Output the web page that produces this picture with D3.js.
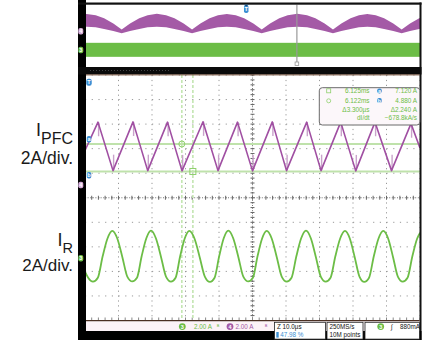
<!DOCTYPE html>
<html>
<head>
<meta charset="utf-8">
<script src="https://cdnjs.cloudflare.com/ajax/libs/d3/7.8.5/d3.min.js"></script>
<style>
body { margin: 0; background: #fff; }
svg { display: block; font-family: 'Liberation Sans', Arial, sans-serif; }
</style>
</head>
<body>
<script>
// ---- data read off the scope shot ----
// main window, time in us (10us/div), current in A (2A/div)
var pfcTime = [0, 3.88, 8.36, 14.33, 18.72, 24.63, 28.96, 35.22, 39.70, 45.52, 50.0,
	55.91, 60.15, 66.18, 70.45, 76.33, 80.81, 86.57, 91.49, 97.31, 100];
var pfcAmps = [6.6, 8.9, 4.95, 8.92, 4.95, 8.9, 4.93, 8.93, 4.95, 8.9, 4.93,
	8.92, 4.95, 8.9, 4.95, 8.9, 4.93, 8.9, 4.95, 8.78, 6.8];

var irTime = [0, 0.95, 2.39, 3.83, 5.27, 6.71, 8.15, 9.64, 11.14, 12.63, 14.12,
	15.52, 16.91, 18.31, 19.70, 21.19, 22.69, 24.18, 25.67, 27.04, 28.40, 29.77, 31.13,
	32.68, 34.22, 35.77, 37.31, 38.68, 40.05, 41.41, 42.78, 44.27, 45.77, 47.26, 48.75,
	50.12, 51.50, 52.87, 54.24, 55.73, 57.23, 58.72, 60.21, 61.65, 63.09, 64.53, 65.97,
	67.44, 68.91, 70.38, 71.85, 73.29, 74.73, 76.17, 77.61, 79.05, 80.49, 81.93, 83.37,
	84.79, 86.21, 87.62, 89.04, 90.49, 91.94, 93.39, 94.84, 96.28, 97.72, 99.16, 100];
var irAmps = [-1.1, -1.6, -1.92, -1.6, 0.15, 1.6, 2.22, 1.6, 0.1, -1.5, -1.9,
	-1.6, 0.15, 1.62, 2.24, 1.6, 0.1, -1.5, -1.92, -1.6, 0.15, 1.6, 2.22,
	1.6, 0.1, -1.5, -1.94, -1.6, 0.15, 1.62, 2.24, 1.6, 0.1, -1.5, -1.9,
	-1.6, 0.15, 1.6, 2.22, 1.6, 0.1, -1.5, -1.92, -1.6, 0.15, 1.62, 2.24,
	1.6, 0.1, -1.5, -1.92, -1.6, 0.15, 1.6, 2.22, 1.6, 0.1, -1.5, -1.94,
	-1.6, 0.15, 1.6, 2.22, 1.6, 0.1, -1.5, -1.92, -1.6, 0.15, 1.6, 2.05];

// overview window, time in ms (4ms/div): envelope of the PFC current
var envTime = [0, 0.2, 1.28, 2.28, 3.38, 4.38, 5.38, 6.48, 7.48, 8.58, 9.68, 10.68, 11.78, 12.78,
	13.78, 14.88, 15.88, 16.94, 18.0, 19.0, 20.1, 21.1, 22.1, 23.2, 24.2, 25.36,
	26.51, 27.51, 28.61, 29.61, 30.61, 31.71, 32.71, 33.71, 34.71, 35.71, 36.81, 37.81,
	38.81, 39.91, 40];
var envHigh = [5.65, 5.7, 5.3, 4.4, 2.9, 1.1, 2.9, 4.4, 5.3, 5.72, 5.3, 4.4, 2.9, 1.1,
	2.9, 4.4, 5.3, 5.7, 5.3, 4.4, 2.9, 1.1, 2.9, 4.4, 5.3, 5.72,
	5.3, 4.4, 2.9, 1.1, 2.9, 4.4, 5.3, 5.7, 5.3, 4.4, 2.9, 1.1,
	2.9, 4.4, 4.5];
var envLow = [1.9, 1.94, 1.75, 1.3, 0.7, 0, 0.7, 1.3, 1.75, 1.94, 1.75, 1.3, 0.7, 0,
	0.7, 1.3, 1.75, 1.94, 1.75, 1.3, 0.7, 0, 0.7, 1.3, 1.75, 1.94,
	1.75, 1.3, 0.7, 0, 0.7, 1.3, 1.75, 1.94, 1.75, 1.3, 0.7, 0,
	0.7, 1.3, 1.35];
var irBand = [-1.92, 2.2];

// cursors and readouts
var cursorTime = [28.9, 32.2];
var cursorAmps = [7.12, 4.88];
var readoutLeft = ['6.125ms', '6.122ms', '\u03943.300\u00b5s', 'dI/dt'];
var readoutRight = ['7.120 A', '4.880 A', '\u03942.240 A', '\u2212678.8kA/s'];
var triggerPos = 0.4798;   // 47.98 % of 40ms record
var overviewCursor = 25.3; // ms

var purple = '#a04fa2', green = '#6cbd46', blue = '#3c8fd3';

var width = 427, height = 343;

var svg = d3.select('body').append('svg')
	.attr('width', width)
	.attr('height', height);

svg.append('rect').attr('width', width).attr('height', height).attr('fill', '#fff');

// frame geometry
var plot = { left: 85, right: 420, top: 75, bottom: 320.5 };
var over = { top: 4.7, bottom: 67 };
var ampsPerDiv = 2;

var x = d3.scaleLinear().domain([0, 100]).range([plot.left, plot.right]);
var yDiv = d3.scaleLinear().domain([-5, 5]).range([plot.bottom, plot.top]);

// channel offsets in divisions
var yPfc = d3.scaleLinear().domain([0, ampsPerDiv]).range([yDiv(-1.37), yDiv(-0.37)]);
var yIr = d3.scaleLinear().domain([0, ampsPerDiv]).range([yDiv(-2.46), yDiv(-1.46)]);

var xTop = d3.scaleLinear().domain([0, 40]).range([plot.left, plot.right]);
var yTopPfc = d3.scaleLinear().domain([0, 1]).range([33.3, 29.9]);
var yTopIr = d3.scaleLinear().domain([0, 1]).range([50.3, 46.9]);

// ---- main grid ----
var grid = svg.append('g');

grid.selectAll('.vgrid')
	.data(d3.range(0, 101, 10))
	.enter().append('line')
	.attr('class', 'vgrid')
	.attr('x1', function(d) { return x(d); })
	.attr('x2', function(d) { return x(d); })
	.attr('y1', plot.top).attr('y2', plot.bottom)
	.attr('stroke', '#999').attr('stroke-width', 1)
	.attr('stroke-dasharray', '1.2,3.7');

grid.selectAll('.hgrid')
	.data(d3.range(-5, 6, 1))
	.enter().append('line')
	.attr('class', 'hgrid')
	.attr('y1', function(d) { return yDiv(d); })
	.attr('y2', function(d) { return yDiv(d); })
	.attr('x1', plot.left).attr('x2', plot.right)
	.attr('stroke', '#999').attr('stroke-width', 1)
	.attr('stroke-dasharray', '1.2,5.5');

// centre lines with minor ticks
grid.append('line')
	.attr('x1', plot.left).attr('x2', plot.right)
	.attr('y1', yDiv(0)).attr('y2', yDiv(0))
	.attr('stroke', '#777').attr('stroke-dasharray', '1,1.6');
grid.append('line')
	.attr('x1', x(50)).attr('x2', x(50))
	.attr('y1', plot.top).attr('y2', plot.bottom)
	.attr('stroke', '#777').attr('stroke-dasharray', '1,1.6');

var minorX = d3.range(0, 100.01, 2),
	minorY = d3.range(-5, 5.01, 0.2);

grid.selectAll('.xtick')
	.data(minorX)
	.enter().append('line')
	.attr('class', 'xtick')
	.attr('x1', function(d) { return x(d); })
	.attr('x2', function(d) { return x(d); })
	.attr('y1', yDiv(0) - 2).attr('y2', yDiv(0) + 2)
	.attr('stroke', '#666');

grid.selectAll('.ytick')
	.data(minorY)
	.enter().append('line')
	.attr('class', 'ytick')
	.attr('y1', function(d) { return yDiv(d); })
	.attr('y2', function(d) { return yDiv(d); })
	.attr('x1', x(50) - 2).attr('x2', x(50) + 2)
	.attr('stroke', '#666');

// edge ticks along the bottom
grid.selectAll('.btick')
	.data(minorX)
	.enter().append('line')
	.attr('class', 'btick')
	.attr('x1', function(d) { return x(d); })
	.attr('x2', function(d) { return x(d); })
	.attr('y1', plot.bottom - 3).attr('y2', plot.bottom)
	.attr('stroke', '#888');

// ---- cursors ----
var cur = svg.append('g');

cur.selectAll('.chline')
	.data(cursorAmps)
	.enter().append('line')
	.attr('class', 'chline')
	.attr('x1', plot.left).attr('x2', plot.right)
	.attr('y1', function(d) { return yPfc(d); })
	.attr('y2', function(d) { return yPfc(d); })
	.attr('stroke', '#bfe2ab').attr('stroke-width', 2);

cur.selectAll('.cvline')
	.data(cursorTime)
	.enter().append('line')
	.attr('class', 'cvline')
	.attr('y1', plot.top).attr('y2', plot.bottom)
	.attr('x1', function(d) { return x(d); })
	.attr('x2', function(d) { return x(d); })
	.attr('stroke', '#c4e6b2').attr('stroke-width', 1.6)
	.attr('stroke-dasharray', '3,2');

// ---- waveforms ----
var pfcData = pfcTime.map(function(t, i) { return [t, pfcAmps[i]]; });
var irData = irTime.map(function(t, i) { return [t, irAmps[i]]; });

// ringing spikes at each corner of the triangle
var spikes = pfcData.slice(1, -1);
svg.append('g').selectAll('line')
	.data(spikes)
	.enter().append('line')
	.attr('x1', function(d) { return x(d[0]) + 0.6; })
	.attr('x2', function(d) { return x(d[0]) + 0.6; })
	.attr('y1', function(d) { return yPfc(d[1]); })
	.attr('y2', function(d, i) { return yPfc(d[1] + (i % 2 === 0 ? -1.15 : 1.3)); })
	.attr('stroke', '#c9a3cb').attr('stroke-width', 1.4);

svg.append('path')
	.datum(pfcData)
	.attr('fill', 'none')
	.attr('stroke', purple)
	.attr('stroke-width', 1.6)
	.attr('stroke-linejoin', 'round')
	.attr('d', d3.line()
		.x(function(d) { return x(d[0]); })
		.y(function(d) { return yPfc(d[1]); }));

svg.append('path')
	.datum(irData)
	.attr('fill', 'none')
	.attr('stroke', green)
	.attr('stroke-width', 1.8)
	.attr('d', d3.line()
		.curve(d3.curveMonotoneX)
		.x(function(d) { return x(d[0]); })
		.y(function(d) { return yIr(d[1]); }));

// cursor handles
cur.append('circle')
	.attr('cx', x(cursorTime[0])).attr('cy', yPfc(cursorAmps[0]))
	.attr('r', 3).attr('fill', 'none').attr('stroke', '#8fd06d');
cur.append('rect')
	.attr('x', x(cursorTime[1]) - 3).attr('y', yPfc(cursorAmps[1]) - 3)
	.attr('width', 6).attr('height', 6)
	.attr('fill', 'none').attr('stroke', '#8fd06d');

// ---- overview window ----
var envData = envTime.map(function(t, i) { return [t, envHigh[i], envLow[i]]; });

svg.append('path')
	.datum(envData)
	.attr('fill', '#a45aa6')
	.attr('d', d3.area()
		.x(function(d) { return xTop(d[0]); })
		.y0(function(d) { return yTopPfc(d[2]); })
		.y1(function(d) { return yTopPfc(d[1]); }));

svg.append('rect')
	.attr('x', xTop(0)).attr('width', xTop(40) - xTop(0))
	.attr('y', yTopIr(irBand[1]))
	.attr('height', yTopIr(irBand[0]) - yTopIr(irBand[1]))
	.attr('fill', green);

svg.append('line')
	.attr('x1', xTop(overviewCursor)).attr('x2', xTop(overviewCursor))
	.attr('y1', over.top).attr('y2', 62)
	.attr('stroke', '#999').attr('stroke-width', 1.2);
svg.append('rect')
	.attr('x', xTop(overviewCursor) - 1.8).attr('y', 62)
	.attr('width', 3.6).attr('height', 3.4)
	.attr('fill', '#fff').attr('stroke', '#999').attr('stroke-width', 0.8);

// ---- frame ----
var frame = svg.append('g');
frame.append('rect').attr('x', 78).attr('y', 0).attr('width', 8).attr('height', 340).attr('fill', '#000');
frame.append('rect').attr('x', 78).attr('y', 2.5).attr('width', 343.5).attr('height', 2.2).attr('fill', '#111');
frame.append('rect').attr('x', 419.5).attr('y', 2.5).attr('width', 2).attr('height', 337.5).attr('fill', '#111');
frame.append('rect').attr('x', 78).attr('y', over.bottom).attr('width', 343.5).attr('height', 7.5).attr('fill', '#0a0a0a');
frame.append('line').attr('x1', 90).attr('x2', 170).attr('y1', 70.5).attr('y2', 70.5)
	.attr('stroke', '#444').attr('stroke-dasharray', '1,2');
frame.append('rect').attr('x', 86).attr('y', 74.4).attr('width', 333.5).attr('height', 1).attr('fill', '#7a5540');
frame.append('rect').attr('x', 86).attr('y', 320).attr('width', 333.5).attr('height', 1.5).attr('fill', '#4a2f22');
frame.append('rect').attr('x', 86).attr('y', 321.5).attr('width', 333.5).attr('height', 9.5).attr('fill', '#fcf3f7');
frame.append('rect').attr('x', 78).attr('y', 331).attr('width', 343.5).attr('height', 9).attr('fill', '#000');

// ---- markers ----
function marker(g, cx, cy, w, h, fill, label, textFill) {
	g.append('rect')
		.attr('x', cx - w / 2).attr('y', cy - h / 2)
		.attr('width', w).attr('height', h)
		.attr('rx', w / 2.5)
		.attr('fill', fill);
	g.append('text')
		.attr('x', cx).attr('y', cy + 2)
		.attr('text-anchor', 'middle')
		.attr('font-size', 5.5)
		.attr('font-weight', 'bold')
		.attr('fill', textFill || '#fff')
		.text(label);
}

var mk = svg.append('g');
marker(mk, 80.8, 31.3, 5, 6.5, '#d6abd8', '4');
marker(mk, 80.8, 50, 5, 6.5, green, '3');
marker(mk, 80.8, 185, 5, 6.5, '#d6abd8', '4');
marker(mk, 80.8, yIr(0), 5, 6.5, green, '3');
marker(mk, 89, 82.3, 5.5, 7, blue, 'T');
marker(mk, 89, 139.3, 4.5, 6.5, blue, 'a');
marker(mk, 89, 175.3, 4.5, 6.5, blue, 'b');
marker(mk, xTop(40 * triggerPos) + 0.5, 9, 4.5, 8, blue, 'T');
mk.append('path')
	.attr('d', 'M' + (xTop(40 * triggerPos) - 2) + ',4.5h5l-2.5,2z')
	.attr('fill', '#1d4f7a');

// ---- cursor readout box ----
var box = svg.append('g');
box.append('rect')
	.attr('x', 319.3).attr('y', 87.7)
	.attr('width', 100.5).attr('height', 37.3)
	.attr('rx', 3)
	.attr('fill', '#fcf7fa')
	.attr('stroke', '#6b6b6b').attr('stroke-width', 1);

var rowY = [93.2, 102.8, 111.5, 120.3];

box.selectAll('.rl')
	.data(readoutLeft)
	.enter().append('text')
	.attr('class', 'rl')
	.attr('x', 369.5)
	.attr('y', function(d, i) { return rowY[i]; })
	.attr('text-anchor', 'end')
	.attr('font-size', 6.4)
	.attr('fill', green)
	.text(function(d) { return d; });

box.selectAll('.rr')
	.data(readoutRight)
	.enter().append('text')
	.attr('class', 'rr')
	.attr('x', 417)
	.attr('y', function(d, i) { return rowY[i]; })
	.attr('text-anchor', 'end')
	.attr('font-size', 6.4)
	.attr('fill', green)
	.text(function(d) { return d; });

box.append('rect').attr('x', 326.7).attr('y', 88.8).attr('width', 4).attr('height', 4)
	.attr('fill', 'none').attr('stroke', '#8fd06d').attr('stroke-width', 0.8);
box.append('circle').attr('cx', 328.7).attr('cy', 100.8).attr('r', 2)
	.attr('fill', 'none').attr('stroke', '#8fd06d').attr('stroke-width', 0.8);
marker(box, 379.5, 90.9, 4.5, 5, blue, 'a');
marker(box, 379.5, 100.6, 4.5, 5, blue, 'b');

// ---- status bar ----
var st = svg.append('g').attr('font-size', 6.3);

function chip(cx, fill, label) {
	st.append('circle').attr('cx', cx).attr('cy', 326.6).attr('r', 3.4).attr('fill', fill);
	st.append('text').attr('x', cx).attr('y', 328.6).attr('text-anchor', 'middle')
		.attr('font-size', 5.5).attr('font-weight', 'bold').attr('fill', '#fff').text(label);
}

chip(182.3, green, '3');
st.append('text').attr('x', 194).attr('y', 329).attr('fill', green).text('2.00 A');
st.append('text').attr('x', 217).attr('y', 329).attr('fill', green).attr('font-size', 5.5).text('\u1d2e');
chip(230, '#a45aa6', '4');
st.append('text').attr('x', 235.5).attr('y', 329).attr('fill', '#a45aa6').text('2.00 A');
st.append('text').attr('x', 265).attr('y', 329).attr('fill', '#a45aa6').attr('font-size', 5.5).text('\u1d2e');

// timebase / acquisition / trigger boxes
var boxes = [[274.5, 51], [327, 36], [365, 54.5]];
st.selectAll('.sbox')
	.data(boxes)
	.enter().append('rect')
	.attr('class', 'sbox')
	.attr('x', function(d) { return d[0]; })
	.attr('y', 322.3)
	.attr('width', function(d) { return d[1]; })
	.attr('height', 16.8)
	.attr('fill', '#fff')
	.attr('stroke', '#222').attr('stroke-width', 0.8);

st.append('text').attr('x', 277).attr('y', 329.3).attr('fill', '#111').text('Z 10.0\u00b5s');
st.append('rect').attr('x', 276.3).attr('y', 332).attr('width', 2.4).attr('height', 5.6).attr('fill', blue);
st.append('text').attr('x', 280.3).attr('y', 337.3).attr('fill', blue).text('47.98 %');
st.append('text').attr('x', 329.5).attr('y', 329.3).attr('fill', '#111').text('250MS/s');
st.append('text').attr('x', 329.5).attr('y', 337.3).attr('fill', '#111').text('10M points');
chip(380.7, green, '3');
st.append('text').attr('x', 391).attr('y', 329.3).attr('fill', '#111').attr('font-style', 'italic').text('\u222b');
st.append('text').attr('x', 400).attr('y', 329.3).attr('fill', '#111').text('880mA');

// ---- channel labels ----
var lab = svg.append('g').attr('fill', '#1a1a1a');

var t1 = lab.append('text').attr('x', 73).attr('y', 136).attr('text-anchor', 'end');
t1.append('tspan').attr('font-size', 18).text('I');
t1.append('tspan').attr('font-size', 16).attr('dy', 7.5).text('PFC');
lab.append('text').attr('x', 73).attr('y', 163.5).attr('text-anchor', 'end')
	.attr('font-size', 17.5).text('2A/div.');

var t2 = lab.append('text').attr('x', 73).attr('y', 246).attr('text-anchor', 'end');
t2.append('tspan').attr('font-size', 18).text('I');
t2.append('tspan').attr('font-size', 14.5).attr('dy', 6.5).text('R');
lab.append('text').attr('x', 73).attr('y', 271).attr('text-anchor', 'end')
	.attr('font-size', 17).text('2A/div.');
</script>
</body>
</html>
